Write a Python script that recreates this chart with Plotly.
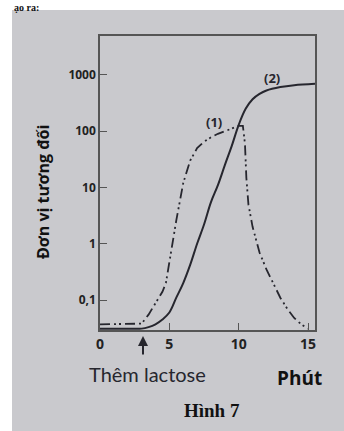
import plotly.graph_objects as go

# Curve (1): dash-dot-dot
x1 = [0, 1, 2, 3, 3.5, 4, 4.5, 4.75, 5, 5.5, 6, 6.5, 7, 7.5, 8, 8.5, 9, 9.5, 10, 10.3,
      10.45, 10.55, 10.7, 11, 11.5, 12, 12.5, 13, 13.5, 14, 14.5, 15]
y1 = [0.037, 0.037, 0.037, 0.038, 0.055, 0.09, 0.14, 0.2, 0.5, 2.6, 12, 30, 50, 65, 78, 90,
      100, 112, 125, 125, 60, 15, 5, 2, 0.7, 0.35, 0.19, 0.11, 0.07, 0.048, 0.037, 0.031]

# Curve (2): solid
x2 = [0, 1, 2, 3, 3.5, 4, 4.5, 5, 5.5, 6, 6.5, 7, 7.5, 8, 8.5, 9, 9.5, 10, 10.5, 11,
      11.5, 12, 13, 14, 15.5]
y2 = [0.031, 0.031, 0.031, 0.031, 0.033, 0.037, 0.045, 0.06, 0.11, 0.2, 0.42, 1.0, 2.2, 5.5,
      11, 25, 55, 130, 250, 370, 460, 530, 610, 660, 700]

y_ticks = [0.1, 1, 10, 100, 1000]
y_tick_labels = ["0,1", "1", "10", "100", "1000"]
x_ticks = [0, 5, 10, 15]
x_tick_labels = ["0", "5", "10", "15"]

ink = "#26262e"
bg = "#c9c9cd"

fig = go.Figure()
fig.add_trace(go.Scatter(x=x1, y=y1, mode="lines", line=dict(color=ink, width=1.8,
                         dash="10px,4px,2px,3px,2px,4px"), showlegend=False, hoverinfo="skip"))
fig.add_trace(go.Scatter(x=x2, y=y2, mode="lines", line=dict(color=ink, width=2),
                         line_shape="spline", showlegend=False, hoverinfo="skip"))

def px_x(p):
    return (p - 100) / 215

def px_y(p):
    return (330 - p) / 294

fig.add_shape(type="rect", xref="paper", yref="paper", x0=px_x(12), x1=px_x(346),
              y0=px_y(433), y1=px_y(10), fillcolor=bg, line=dict(width=0), layer="below")

def txt(text, x, y, size, family="Open Sans", bold=True, color="#111", **kw):
    d = dict(text=text, x=px_x(x), y=px_y(y), xref="paper", yref="paper", showarrow=False,
             xanchor="center", yanchor="middle",
             font=dict(family=family, size=size, color=color, weight="bold" if bold else "normal"))
    d.update(kw)
    return d

ann = []
ann.append(dict(text="(1)", x=8.2, y=2.16, xref="x", yref="y", showarrow=False,
                xanchor="center", yanchor="middle",
                font=dict(family="Open Sans", size=13, color=ink, weight="bold")))
ann.append(dict(text="(2)", x=12.4, y=2.95, xref="x", yref="y", showarrow=False,
                xanchor="center", yanchor="middle",
                font=dict(family="Open Sans", size=13, color=ink, weight="bold")))
ann.append(dict(text="", x=3.1, y=px_y(336), xref="x", yref="paper", showarrow=True,
                ax=0, ay=20, arrowhead=2, arrowsize=1, arrowwidth=2, arrowcolor=ink))
ann.append(txt("Thêm lactose", 147, 374, 20, family="Lato", bold=False, color=ink))
ann.append(txt("Phút", 299, 378, 19))
ann.append(txt("Hình 7", 212, 410, 19, family="Liberation Serif"))
ann.append(txt("Đơn vị tương đối", 43, 192, 16, textangle=-90))
ann.append(txt("ạo ra:", 26, 7, 10, family="Liberation Serif"))

fig.update_layout(
    width=344, height=431,
    margin=dict(l=100, r=29, t=36, b=101),
    paper_bgcolor="white", plot_bgcolor="rgba(0,0,0,0)",
    annotations=ann,
    hovermode=False,
    xaxis=dict(range=[0, 15.5], tickvals=x_ticks, ticktext=x_tick_labels, ticks="inside",
               ticklen=7, tickcolor="#555", tickwidth=1.2, showgrid=False, zeroline=False,
               showline=True, linecolor="#555", linewidth=1.5, mirror=True,
               tickfont=dict(family="Open Sans", size=14, color="#222", weight="bold")),
    yaxis=dict(type="log", range=[-1.533, 3.693], tickvals=y_ticks, ticktext=y_tick_labels,
               ticks="inside", ticklen=7, tickcolor="#555", tickwidth=1.2, showgrid=False,
               zeroline=False, showline=True, linecolor="#555", linewidth=1.5, mirror=True,
               tickfont=dict(family="Open Sans", size=12, color="#222", weight="bold")),
)

fig.write_html("out.html", config={"displayModeBar": False},
               post_script="document.body.style.margin='0';")
